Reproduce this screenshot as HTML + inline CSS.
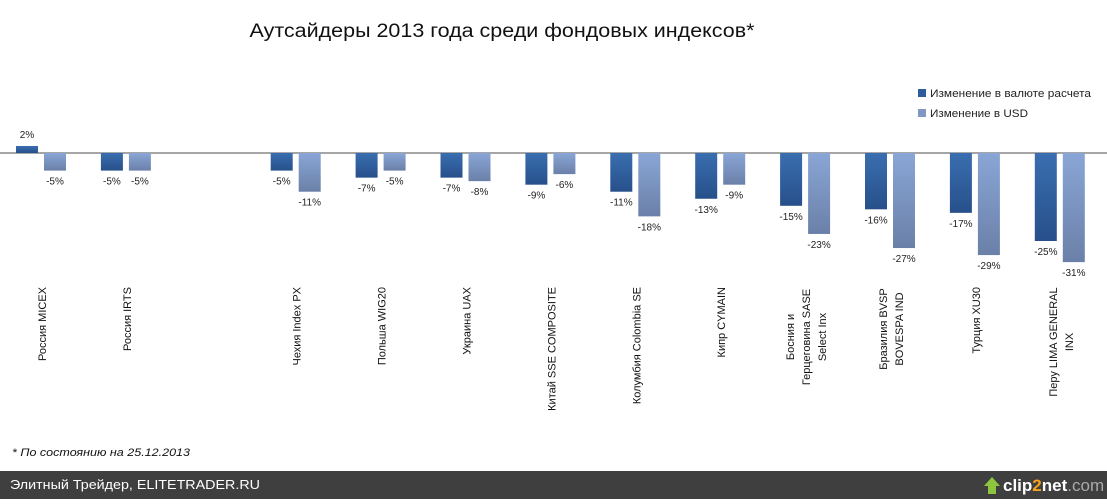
<!DOCTYPE html>
<html><head><meta charset="utf-8"><style>
body{margin:0;width:1107px;height:499px;overflow:hidden;background:#fff;font-family:"Liberation Sans","DejaVu Sans",sans-serif}
</style></head><body>
<svg width="1107" height="499" xmlns="http://www.w3.org/2000/svg" font-family="Liberation Sans, DejaVu Sans, sans-serif">
<defs>
<linearGradient id="d" x1="0" y1="0" x2="0" y2="1"><stop offset="0" stop-color="#3a6eb0"/><stop offset="1" stop-color="#27508a"/></linearGradient>
<linearGradient id="l" x1="0" y1="0" x2="0" y2="1"><stop offset="0" stop-color="#8aa6d6"/><stop offset="1" stop-color="#6a80a8"/></linearGradient>
</defs>
<text x="502" y="37" font-size="19" text-anchor="middle" fill="#111" textLength="505" lengthAdjust="spacingAndGlyphs">Аутсайдеры 2013 года среди фондовых индексов*</text>
<line x1="0" y1="153" x2="1107" y2="153" stroke="#888" stroke-width="1.5"/>
<g id="bars" font-size="10" fill="#222" text-anchor="middle"></g>
<g id="labs" font-size="11" fill="#111"></g>
<rect x="918" y="89" width="8" height="8" fill="#2e5c9c"/>
<text x="930" y="97" font-size="11" fill="#222" textLength="161" lengthAdjust="spacingAndGlyphs">Изменение в валюте расчета</text>
<rect x="918" y="109" width="8" height="8" fill="#8099c4"/>
<text x="930" y="117" font-size="11" fill="#222" textLength="98" lengthAdjust="spacingAndGlyphs">Изменение в USD</text>
<text x="12" y="456" font-size="11" font-style="italic" fill="#111" textLength="178" lengthAdjust="spacingAndGlyphs">* По состоянию на 25.12.2013</text>
<rect x="0" y="471" width="1107" height="28" fill="#3f3f3f"/>
<text x="10" y="489" font-size="13" fill="#fff" textLength="250" lengthAdjust="spacingAndGlyphs">Элитный Трейдер, ELITETRADER.RU</text>
<path d="M984 486 l8 -9 l8 9 h-4 v8 h-8 v-8z" fill="#8cc63f"/>
<text x="1003" y="491" font-size="17" font-weight="bold" fill="#fff">clip<tspan fill="#f7a21b">2</tspan>net<tspan fill="#aaa" font-weight="normal">.com</tspan></text>
</svg>
<script>
var D=[2,-5,null,-5,-7,-7,-9,-11,-13,-15,-16,-17,-25],L=[-5,-5,null,-11,-5,-8,-6,-18,-9,-23,-27,-29,-31];
var N=[["Россия MICEX"],["Россия IRTS"],null,["Чехия Index PX"],["Польша WIG20"],["Украина UAX"],["Китай SSE COMPOSITE"],["Колумбия Colombia SE"],["Кипр CYMAIN"],["Босния и","Герцеговина SASE","Select Inx"],["Бразилия BVSP","BOVESPA IND"],["Турция XU30"],["Перу LIMA GENERAL","INX"]];
var s=3.52,b='',t='';
function bar(x,v,f){var h=Math.abs(v)*s,y=v>0?153-h:153;b+='<rect x="'+x+'" y="'+y+'" width="22" height="'+h+'" fill="url(#'+f+')"/>';var ty=v>0?y-8:153+h+14;b+='<text x="'+(x+11)+'" y="'+ty+'">'+v+'%</text>';}
for(var i=0;i<13;i++){if(D[i]==null)continue;var x=16+i*84.9;bar(x,D[i],'d');bar(x+28,L[i],'l');
var c=x+26,n=N[i];if(n.length==1){t+='<text transform="translate('+(c+4)+',287) rotate(-90)" text-anchor="end">'+n[0]+'</text>';}
else{var cy={9:337,10:329,12:342}[i];for(var k=0;k<n.length;k++){var lx=c+4+(k-(n.length-1)/2)*16;t+='<text transform="translate('+lx+','+cy+') rotate(-90)" text-anchor="middle">'+n[k]+'</text>';}}}
document.getElementById('bars').innerHTML=b;document.getElementById('labs').innerHTML=t;
</script>
</body></html>
